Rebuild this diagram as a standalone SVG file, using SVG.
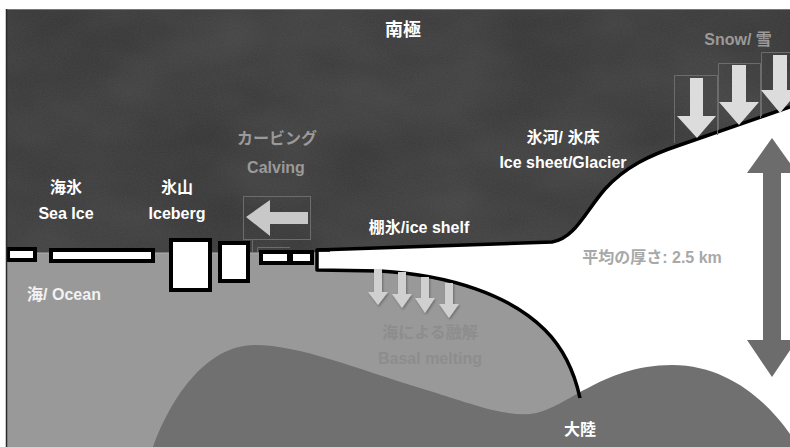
<svg xmlns="http://www.w3.org/2000/svg" width="790" height="447" viewBox="0 0 790 447">
  <defs>
    <style>
      .lbl { font-family: "Liberation Sans", "Noto Sans CJK JP", Arial, sans-serif; font-weight: bold; font-size: 16px; text-anchor: middle; }
      .white { fill: #ffffff; }
      .dim { fill: #9a9a9a; }
      .faint { fill: #8d8d8d; }
      .outline { fill: none; stroke: #000; stroke-width: 3.5; stroke-linejoin: round; }
      .block { fill: #fff; stroke: #000; stroke-width: 4; }
      .ghost { fill: none; stroke: #6c6c6c; stroke-width: 1; }
      .snow { fill: #dcdcdc; }
      .melt { fill: #d0d0d0; filter: url(#shadow); }
    </style>
    <filter id="chalk" x="0" y="0" width="100%" height="100%">
      <feTurbulence type="fractalNoise" baseFrequency="0.008 0.015" numOctaves="3" seed="4" result="big"/>
      <feColorMatrix in="big" type="matrix" values="0 0 0 0 0.5  0 0 0 0 0.5  0 0 0 0 0.5  0 0 0 0.16 -0.03" result="blot"/>
      <feTurbulence type="fractalNoise" baseFrequency="0.8" numOctaves="2" seed="7" result="fine"/>
      <feColorMatrix in="fine" type="matrix" values="0 0 0 0 0.5  0 0 0 0 0.5  0 0 0 0 0.5  0 0 0 0.1 0" result="grain"/>
      <feMerge><feMergeNode in="blot"/><feMergeNode in="grain"/></feMerge>
    </filter>
    <filter id="shadow" x="-30%" y="-30%" width="160%" height="160%">
      <feDropShadow dx="1" dy="1.5" stdDeviation="1" flood-color="#000" flood-opacity="0.3"/>
    </filter>
  </defs>

  <!-- page margin -->
  <rect x="0" y="0" width="790" height="447" fill="#ffffff"/>

  <!-- chalkboard sky -->
  <g id="sky">
    <rect x="6" y="9" width="784" height="246" fill="#363636"/>
    <rect x="6" y="9" width="784" height="246" fill="#000" filter="url(#chalk)"/>
    <line x1="6" y1="9.5" x2="790" y2="9.5" stroke="#777" stroke-width="1"/>
  </g>

  <!-- ocean -->
  <g id="ocean">
    <rect x="6" y="253" width="784" height="194" fill="#999999"/>
    <line x1="6" y1="253" x2="320" y2="253" stroke="#b0b0b0" stroke-width="1"/>
  </g>

  <!-- ice sheet and floating shelf -->
  <g id="ice-sheet">
    <path d="M317,250 L552,242 C575,238 585,212 605,189 C625,167 650,155 680,145 L790,107 L790,447 L580,447 L580,398 C575,375 565,350 545,330 C510,295 450,275 380,271 L317,270 Z" fill="#ffffff"/>
  </g>

  <!-- bedrock -->
  <g id="land">
    <path d="M153,447 C170,400 205,345 255,345 C300,345 360,370 420,388 C470,403 500,416 530,414 C565,411 600,365 672,365 C730,365 770,405 790,434 L790,447 Z" fill="#707070"/>
  </g>

  <!-- ice outlines -->
  <g id="ice-outline">
    <path class="outline" d="M330,250 L317,250 L317,270 L380,271 C450,275 510,295 545,330 C565,350 575,375 580,398"/>
    <path class="outline" d="M317,250 L552,242 C575,238 585,212 605,189 C625,167 650,155 680,145 L790,107"/>
  </g>

  <!-- sea ice -->
  <g id="sea-ice">
    <rect class="block" x="8" y="249" width="27" height="11"/>
    <rect class="block" x="51" y="250" width="102" height="11"/>
  </g>

  <!-- icebergs -->
  <g id="icebergs">
    <rect class="block" x="171" y="240" width="39" height="50"/>
    <rect class="block" x="220" y="243" width="28" height="38"/>
    <rect class="block" x="261" y="252" width="28" height="11"/>
    <rect class="block" x="291" y="252" width="21" height="11"/>
  </g>

  <!-- arrows -->
  <g id="connectors">
    <!-- calving -->
    <rect class="ghost" x="243.5" y="196.5" width="67" height="43"/>
    <path class="ghost" d="M252.5,252 V240 M257.5,252 V247.5 H290"/>
    <polygon points="246,217 270,200 270,212 308,212 308,224 270,224 270,236" fill="#c8c8c8"/>

    <!-- snowfall -->
    <path class="ghost" d="M674.5,143 V75.5 H717.5 V135 M718.5,130 V63.5 H760.5 V118 M761.5,116 V52.5 H790"/>
    <polygon class="snow" points="690,78 703,78 703,116 716,116 697,138 677,116 690,116"/>
    <polygon class="snow" points="732,65 746,65 746,102 759,102 739,125 719,102 732,102"/>
    <polygon class="snow" points="773,55 787,55 787,90 799,90 780,113 761,90 773,90"/>

    <!-- thickness -->
    <polygon points="772,138 797,173 781,173 781,340 797,340 772,377 747,340 763,340 763,173 747,173" fill="#6c6c6c"/>

    <!-- basal melting -->
    <polygon class="melt" points="374,269 382,269 382,292 388,292 378,305 368,292 374,292"/>
    <polygon class="melt" points="398,272 406,272 406,294 412,294 402,308 392,294 398,294"/>
    <polygon class="melt" points="421,277 429,277 429,298 435,298 425,313 415,298 421,298"/>
    <polygon class="melt" points="445,283 453,283 453,304 459,304 449,318 439,304 445,304"/>
  </g>

  <!-- labels -->
  <g id="labels">
    <text class="lbl white" x="403" y="36" style="font-size:18px">南極</text>
    <text class="lbl white" x="66" y="193">海氷</text>
    <text class="lbl white" x="66" y="219">Sea Ice</text>
    <text class="lbl white" x="177" y="193">氷山</text>
    <text class="lbl white" x="177" y="219">Iceberg</text>
    <text class="lbl dim" x="277" y="144">カービング</text>
    <text class="lbl dim" x="276" y="173">Calving</text>
    <text class="lbl white" x="419" y="233">棚氷/ice shelf</text>
    <text class="lbl white" x="563" y="143">氷河/ 氷床</text>
    <text class="lbl white" x="563" y="168">Ice sheet/Glacier</text>
    <text class="lbl dim" x="738" y="45">Snow/ 雪</text>
    <text class="lbl" x="64" y="300" fill="#f2f2f2">海/ Ocean</text>
    <text class="lbl" x="652" y="263" fill="#a8a8a8">平均の厚さ: 2.5 km</text>
    <text class="lbl faint" x="430" y="338">海による融解</text>
    <text class="lbl faint" x="430" y="364">Basal melting</text>
    <text class="lbl white" x="580" y="435">大陸</text>
  </g>

  <!-- frame edge -->
  <line x1="6.5" y1="9" x2="6.5" y2="447" stroke="#2a2a2a" stroke-width="1.5"/>
</svg>
